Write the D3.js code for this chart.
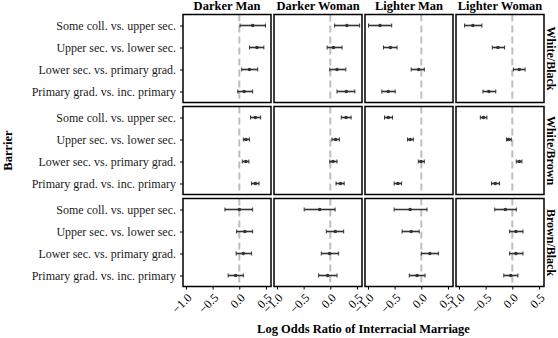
<!DOCTYPE html>
<html>
<head>
<meta charset="utf-8">
<script src="https://cdnjs.cloudflare.com/ajax/libs/d3/7.8.5/d3.min.js"></script>
<style>
  body { margin: 0; background: #fff; }
  svg { font-family: "Liberation Serif", "DejaVu Serif", serif; }
</style>
</head>
<body>
<svg id="chart"></svg>
<script>
const barriers = ['Some coll. vs. upper sec.', 'Upper sec. vs. lower sec.', 'Lower sec. vs. primary grad.', 'Primary grad. vs. inc. primary'];
const groups = ['Darker Man', 'Darker Woman', 'Lighter Man', 'Lighter Woman'];
const pairs = ['White/Black', 'White/Brown', 'Brown/Black'];
const xTicks = [-1.0, -0.5, 0.0, 0.5];

// one inner array per group (column), values in barrier order
const whiteBlackEst = [[0.25, 0.33, 0.19, 0.09], [0.31, 0.06, 0.125, 0.30], [-0.775, -0.58, -0.05, -0.62], [-0.74, -0.27, 0.13, -0.44]];
const whiteBlackLo  = [[0.013, 0.19, 0.045, -0.03], [0.08, -0.06, -0.01, 0.125], [-0.99, -0.71, -0.19, -0.74], [-0.895, -0.375, 0.02, -0.55]];
const whiteBlackHi  = [[0.49, 0.46, 0.345, 0.25], [0.55, 0.22, 0.29, 0.46], [-0.555, -0.455, 0.056, -0.49], [-0.57, -0.145, 0.24, -0.31]];

const whiteBrownEst = [[0.30, 0.125, 0.12, 0.30], [0.295, 0.10, 0.05, 0.19], [-0.62, -0.21, -0.005, -0.44], [-0.54, -0.07, 0.13, -0.32]];
const whiteBrownLo  = [[0.21, 0.075, 0.056, 0.23], [0.206, 0.03, -0.01, 0.107], [-0.69, -0.26, -0.056, -0.51], [-0.60, -0.11, 0.075, -0.39]];
const whiteBrownHi  = [[0.40, 0.19, 0.18, 0.37], [0.39, 0.17, 0.125, 0.26], [-0.54, -0.15, 0.056, -0.37], [-0.476, -0.02, 0.18, -0.24]];

const brownBlackEst = [[0.0, 0.105, 0.075, -0.07], [-0.20, 0.094, -0.013, -0.05], [-0.21, -0.19, 0.16, -0.08], [-0.13, 0.068, 0.068, -0.03]];
const brownBlackLo  = [[-0.27, -0.05, -0.06, -0.21], [-0.49, -0.075, -0.17, -0.22], [-0.51, -0.36, 0.0, -0.225], [-0.33, -0.05, -0.05, -0.16]];
const brownBlackHi  = [[0.25, 0.25, 0.23, 0.075], [0.09, 0.25, 0.156, 0.125], [0.107, -0.04, 0.32, 0.07], [0.075, 0.20, 0.20, 0.105]];

const est = [whiteBlackEst, whiteBrownEst, brownBlackEst];
const lo = [whiteBlackLo, whiteBrownLo, brownBlackLo];
const hi = [whiteBlackHi, whiteBrownHi, brownBlackHi];

const W = 558, H = 338;
const svg = d3.select('#chart').attr('width', W).attr('height', H);

const panelLeft = 183, panelTop = 14.5, pw = 88, ph = 88, gapX = 3, gapY = 4;
const fmt = d3.format('.1f');

pairs.forEach((pair, r) => {
  const y0 = panelTop + r * (ph + gapY);
  const y = d3.scalePoint().domain(barriers).range([y0, y0 + ph]).padding(0.5);

  groups.forEach((grp, c) => {
    const x0 = panelLeft + c * (pw + gapX);
    const x = d3.scaleLinear().domain([-1.056, 0.594]).range([x0, x0 + pw]);
    const g = svg.append('g');

    // zero reference line
    g.append('line')
      .attr('x1', x(0)).attr('x2', x(0))
      .attr('y1', y0).attr('y2', y0 + ph)
      .attr('stroke', '#bebebe')
      .attr('stroke-width', 2)
      .attr('stroke-dasharray', '7,4');

    const rows = barriers.map((b, i) => ({ b, e: est[r][c][i], l: lo[r][c][i], h: hi[r][c][i] }));

    g.selectAll('.bar').data(rows).enter().append('line')
      .attr('x1', d => x(d.l)).attr('x2', d => x(d.h))
      .attr('y1', d => y(d.b)).attr('y2', d => y(d.b))
      .attr('stroke', '#333').attr('stroke-width', 1.6);

    g.selectAll('.capl').data(rows).enter().append('line')
      .attr('x1', d => x(d.l)).attr('x2', d => x(d.l))
      .attr('y1', d => y(d.b) - 2).attr('y2', d => y(d.b) + 2)
      .attr('stroke', '#333').attr('stroke-width', 1);

    g.selectAll('.caph').data(rows).enter().append('line')
      .attr('x1', d => x(d.h)).attr('x2', d => x(d.h))
      .attr('y1', d => y(d.b) - 2).attr('y2', d => y(d.b) + 2)
      .attr('stroke', '#333').attr('stroke-width', 1);

    g.selectAll('.dot').data(rows).enter().append('circle')
      .attr('cx', d => x(d.e)).attr('cy', d => y(d.b))
      .attr('r', 1.8).attr('fill', '#333');

    g.append('rect')
      .attr('x', x0).attr('y', y0).attr('width', pw).attr('height', ph)
      .attr('fill', 'none').attr('stroke', '#000').attr('stroke-width', 1.5);

    if (r === 0) {
      svg.append('text')
        .attr('x', x0 + pw / 2).attr('y', 10)
        .attr('text-anchor', 'middle')
        .attr('font-weight', 'bold').attr('font-size', 12.5)
        .text(grp);
    }

    if (r === pairs.length - 1) {
      const ax = svg.append('g')
        .attr('transform', `translate(0,${y0 + ph})`)
        .call(d3.axisBottom(x).tickValues(xTicks).tickFormat(fmt).tickSize(3).tickSizeOuter(0));
      ax.select('.domain').remove();
      ax.selectAll('line').attr('stroke', '#000').attr('stroke-width', 1);
      ax.selectAll('text')
        .attr('y', null).attr('dy', null)
        .attr('font-family', '"Liberation Serif", serif')
        .attr('font-size', 12).attr('fill', '#000')
        .attr('text-anchor', 'end')
        .attr('transform', 'translate(6,12) rotate(-45)');
    }
  });

  const ay = svg.append('g')
    .attr('transform', `translate(${panelLeft},0)`)
    .call(d3.axisLeft(y).tickSize(3).tickSizeOuter(0).tickPadding(4));
  ay.select('.domain').remove();
  ay.selectAll('line').attr('stroke', '#000').attr('stroke-width', 1);
  ay.selectAll('text')
    .attr('font-family', '"Liberation Serif", serif')
    .attr('font-size', 12).attr('fill', '#1a1a1a');

  svg.append('text')
    .attr('transform', `translate(547,${y0 + ph / 2}) rotate(90)`)
    .attr('text-anchor', 'middle')
    .attr('font-weight', 'bold').attr('font-size', 12)
    .text(pair);
});

svg.append('text')
  .attr('transform', `translate(12,${panelTop + (3 * ph + 2 * gapY) / 2}) rotate(-90)`)
  .attr('text-anchor', 'middle')
  .attr('font-weight', 'bold').attr('font-size', 12.5)
  .text('Barrier');

svg.append('text')
  .attr('x', panelLeft + (4 * pw + 3 * gapX) / 2).attr('y', 333)
  .attr('text-anchor', 'middle')
  .attr('font-weight', 'bold').attr('font-size', 12.5)
  .text('Log Odds Ratio of Interracial Marriage');
</script>
</body>
</html>
